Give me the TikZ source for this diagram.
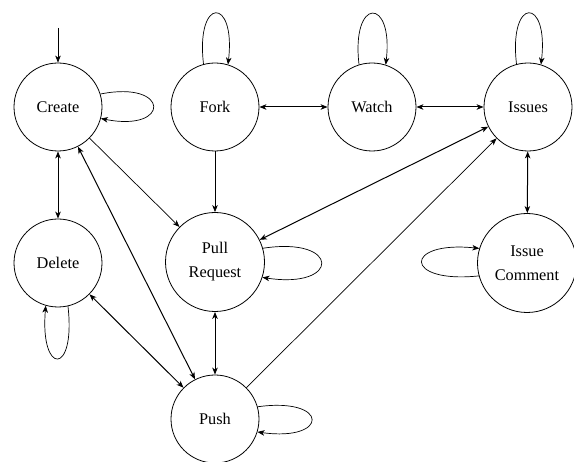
\documentclass[tikz,border=0pt]{standalone}
\usepackage{fontspec}
\setmainfont{Liberation Serif}
\usetikzlibrary{arrows.meta}
\begin{document}
\begin{tikzpicture}[x=1pt,y=-1pt,
  state/.style={draw,circle,line width=0.8pt,inner sep=0pt,minimum size=88pt,align=center,
    font=\fontsize{16.3}{24}\selectfont},
  bigstate/.style={state,minimum size=99pt},
  tip/.style={-{Stealth[length=7pt,width=5.5pt,inset=2pt]}},
  bitip/.style={{Stealth[length=7pt,width=5.5pt,inset=2pt]}-{Stealth[length=7pt,width=5.5pt,inset=2pt]}},
  thin edge/.style={line width=0.7pt},
  thick edge/.style={line width=1.0pt}]
\useasboundingbox (0,0) rectangle (574,462);
\node[state] (create) at (58,107) {Create};
\node[state] (fork) at (215,107) {Fork};
\node[state] (watch) at (372,107) {Watch};
\node[state] (issues) at (528,107) {Issues};
\node[state] (delete) at (58,263) {Delete};
\node[bigstate] (pr) at (215,262) {Pull\\Request};
\node[bigstate] (ic) at (527,263) {Issue\\Comment};
\node[state] (push) at (215,419) {Push};
\coordinate (init) at (58,28);
% straight edges
\draw[tip,thin edge] (init) -- (create);
\draw[bitip,thick edge] (fork) -- (watch);
\draw[bitip,thick edge] (watch) -- (issues);
\draw[bitip,thick edge] (issues) -- (ic);
\draw[bitip,thick edge] (create) -- (delete);
\draw[tip,thin edge] (create) -- (pr);
\draw[tip,thin edge] (fork) -- (pr);
\draw[bitip,thick edge] (pr) -- (issues);
\draw[tip,thin edge] (push) -- (issues);
\draw[bitip,thick edge] (create) -- (push);
\draw[bitip,thick edge] (delete) -- (push);
\draw[bitip,thick edge] (pr) -- (push);
% loops
\draw[tip,thin edge] (create.17) .. controls +(70,-14) and +(70,14) .. (create.-15);
\draw[tip,thin edge] (fork.105) .. controls +(-8,-68) and +(8,-68) .. (fork.73);
\draw[tip,thin edge] (watch.107) .. controls +(-8,-68) and +(8,-68) .. (watch.72);
\draw[tip,thin edge] (issues.105) .. controls +(-8,-68) and +(8,-68) .. (issues.73);
\draw[tip,thin edge] (pr.16) .. controls +(78,-12) and +(78,12) .. (pr.-18);
\draw[tip,thin edge] (delete.-77) .. controls +(8,70) and +(-6,70) .. (delete.-106);
\draw[tip,thin edge] (push.16) .. controls +(72,-10) and +(72,10) .. (push.-17);
\draw[tip,thin edge] (ic.195) .. controls +(-76,8) and +(-76,-8) .. (ic.163);
\end{tikzpicture}
\end{document}
